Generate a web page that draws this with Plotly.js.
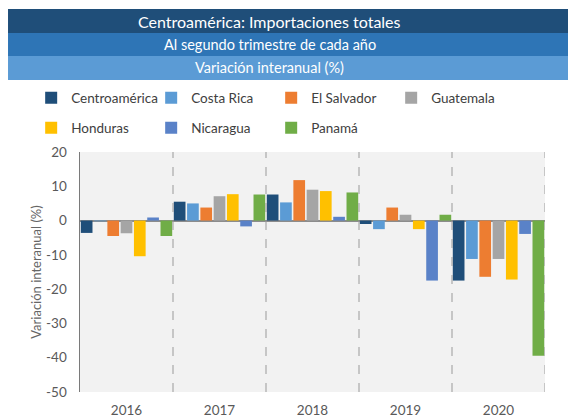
<!DOCTYPE html>
<html>
<head>
<meta charset="utf-8">
<script src="https://cdn.plot.ly/plotly-3.0.1.min.js"></script>
<style>html,body{margin:0;padding:0;background:#fff;}#chart{width:568px;height:416px;}</style>
</head>
<body>
<div id="chart"></div>
<script>
const years = ['2016', '2017', '2018', '2019', '2020'];
const seriesNames = ['Centroamérica', 'Costa Rica', 'El Salvador', 'Guatemala', 'Honduras', 'Nicaragua', 'Panamá'];
const centroamerica = [-3.6, 5.5, 7.6, -1.0, -17.5];
const costaRica = [-0.2, 5.0, 5.3, -2.5, -11.2];
const elSalvador = [-4.5, 3.8, 11.8, 3.8, -16.4];
const guatemala = [-3.7, 7.1, 9.0, 1.7, -11.2];
const honduras = [-10.4, 7.7, 8.6, -2.5, -17.2];
const nicaragua = [0.9, -1.7, 1.1, -17.5, -3.9];
const panama = [-4.5, 7.6, 8.2, 1.7, -39.4];
const seriesValues = [centroamerica, costaRica, elSalvador, guatemala, honduras, nicaragua, panama];
const colors = ['#1F4E79', '#5B9BD5', '#ED7D31', '#A5A5A5', '#FFC000', '#5A82C8', '#70AD47'];
const yTickVals = [-50, -40, -30, -20, -10, 0, 10, 20];
const yTickText = ['-50', '-40', '-30', '-20', '-10', '0', '10', '20'];

const titleText = 'Centroamérica: Importaciones totales';
const subtitleText = 'Al segundo trimestre de cada año';
const subtitle2Text = 'Variación interanual (%)';
const yTitle = 'Variación interanual (%)';

const FONT = 'Lato, "Open Sans", sans-serif';

const traces = seriesNames.map((name, i) => ({
  type: 'bar',
  name: name,
  x: years,
  y: seriesValues[i],
  marker: {color: colors[i], line: {width: 0}},
  legend: i < 4 ? 'legend' : 'legend2',
  hoverinfo: 'x+y+name'
}));

const shapes = [];
const bands = [
  {y0: 1.4958, y1: 1.5958, c: '#1F4E79'},
  {y0: 1.4, y1: 1.4958, c: '#2E75B6'},
  {y0: 1.3, y1: 1.4, c: '#5B9BD5'}
];
bands.forEach(b => shapes.push({
  type: 'rect', xref: 'paper', yref: 'paper',
  x0: -0.1548, x1: 1.06, y0: b.y0, y1: b.y1,
  fillcolor: b.c, line: {width: 0}, layer: 'below'
}));
for (let k = 0; k < years.length; k++) {
  shapes.push({
    type: 'line', xref: 'x', yref: 'paper',
    x0: k + 0.5, x1: k + 0.5, y0: 0, y1: 1,
    line: {color: '#9a9a9a', width: 1, dash: 'dash'}, layer: 'above'
  });
}

const annotations = [
  {text: titleText, y: 1.5458, size: 16},
  {text: subtitleText, y: 1.4479, size: 14.5},
  {text: subtitle2Text, y: 1.35, size: 14.5}
].map(a => ({
  text: a.text, xref: 'paper', yref: 'paper', x: 0.4086, y: a.y,
  xanchor: 'center', yanchor: 'middle', showarrow: false,
  font: {family: FONT, size: a.size, color: '#ffffff'}
}));

const legendBase = {
  orientation: 'h', xref: 'paper', yref: 'paper',
  xanchor: 'left', yanchor: 'middle',
  font: {family: FONT, size: 13.5, color: '#404040'},
  entrywidth: 75, entrywidthmode: 'pixels',
  bgcolor: 'rgba(0,0,0,0)', itemclick: false, itemdoubleclick: false,
  traceorder: 'normal'
};

const layout = {
  width: 568, height: 416,
  margin: {l: 80, r: 23, t: 152, b: 24, pad: 0},
  paper_bgcolor: '#ffffff',
  plot_bgcolor: '#F2F2F2',
  barmode: 'group',
  bargap: 0,
  bargroupgap: 0.12,
  showlegend: true,
  legend: Object.assign({}, legendBase, {x: -0.105, y: 1.225}),
  legend2: Object.assign({}, legendBase, {x: -0.105, y: 1.1}),
  xaxis: {
    type: 'category', categoryorder: 'array', categoryarray: years,
    range: [-0.5, 4.5],
    showgrid: false, zeroline: false, showline: false, ticks: '',
    tickfont: {family: FONT, size: 13.5, color: '#595959'},
    ticklabelstandoff: 8
  },
  yaxis: {
    range: [-50, 20], tickmode: 'array', tickvals: yTickVals, ticktext: yTickText,
    showgrid: false,
    zeroline: true, zerolinecolor: '#8c8c8c', zerolinewidth: 2,
    showline: true, linecolor: '#7a7a7a', linewidth: 1.5,
    ticks: '', ticklabelstandoff: 9,
    tickfont: {family: FONT, size: 13.5, color: '#595959'},
    title: {text: yTitle, standoff: 1, font: {family: FONT, size: 13, color: '#666666'}}
  },
  shapes: shapes,
  annotations: annotations
};

Plotly.newPlot('chart', traces, layout, {displayModeBar: false, staticPlot: true});
</script>
</body>
</html>
